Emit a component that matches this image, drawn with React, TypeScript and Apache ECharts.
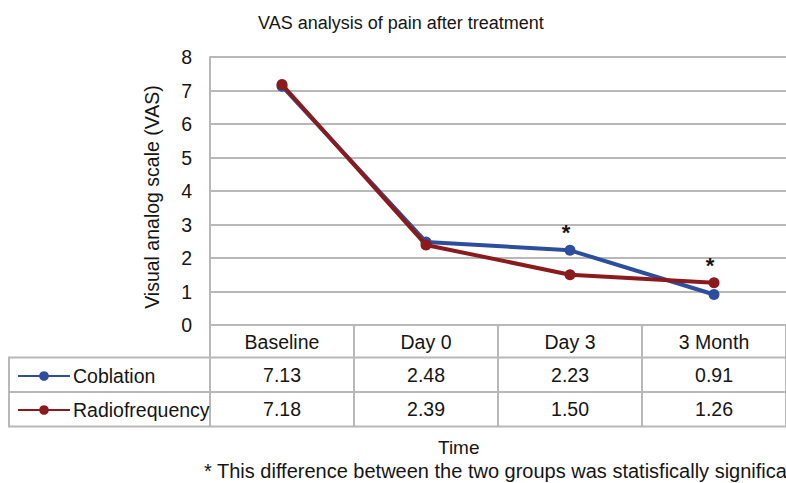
import React, { useEffect, useRef } from "react";
import * as echarts from "echarts";

const categories = ["Baseline", "Day 0", "Day 3", "3 Month"];
const coblation = [7.13, 2.48, 2.23, 0.91];
const radiofrequency = [7.18, 2.39, 1.5, 1.26];
const significant = [false, false, true, true];
const yTicks = [0, 1, 2, 3, 4, 5, 6, 7, 8];

const BLUE = "#2c4e9c";
const RED = "#8b1a1c";
const GRID = "#b8b8b8";
const TEXT = "#151515";
const FONT = "Liberation Sans, Arial, sans-serif";

export default function App() {
  const ref = useRef<HTMLDivElement>(null);
  useEffect(() => {
    if (!ref.current) return;
    const chart = echarts.init(ref.current, undefined, { renderer: "svg" });

    const mkData = (vals: number[], other: number[]) =>
      vals.map((v, i) => {
        const star = significant[i] && v >= other[i];
        return star
          ? {
              value: v,
              label: {
                show: true,
                formatter: "*",
                position: "top",
                distance: 1,
                offset: [-4, 0],
                fontSize: 22,
                fontWeight: "bold",
                color: TEXT,
                fontFamily: FONT,
              },
            }
          : v;
      });

    chart.setOption({
      animation: false,
      textStyle: { fontFamily: FONT },
      title: [
        {
          text: "VAS analysis of pain after treatment",
          left: 253,
          top: 9,
          textStyle: { fontSize: 18, fontWeight: "normal", color: TEXT, fontFamily: FONT },
        },
        {
          text: "Time",
          left: 433,
          top: 433,
          textStyle: { fontSize: 19, fontWeight: "normal", color: TEXT, fontFamily: FONT },
        },
        {
          text: "* This difference between the two groups was statisfically significant",
          left: 199,
          top: 456,
          textStyle: { fontSize: 20, fontWeight: "normal", color: TEXT, fontFamily: FONT },
        },
      ],
      legend: {
        orient: "vertical",
        left: 12,
        top: 361,
        itemWidth: 52,
        itemHeight: 12,
        itemGap: 14,
        textStyle: { fontSize: 19.5, color: TEXT, fontFamily: FONT, padding: [0, 0, 0, -2] },
        data: ["Coblation", "Radiofrequency"],
      },
      grid: { left: 210, top: 57, width: 586, height: 268, containLabel: false },
      xAxis: {
        type: "category",
        data: categories,
        boundaryGap: true,
        axisLine: { show: true, lineStyle: { color: GRID, width: 2 } },
        axisTick: { show: true, interval: 0, length: 101, lineStyle: { color: GRID, width: 2 } },
        axisLabel: {
          interval: 0,
          margin: 0,
          formatter: (v: string, i: number) =>
            `{h|${v}}\n{v|${coblation[i].toFixed(2)}}\n{v|${radiofrequency[i].toFixed(2)}}`,
          rich: {
            h: { fontSize: 19.5, lineHeight: 33.5, color: TEXT, fontFamily: FONT },
            v: { fontSize: 19.5, lineHeight: 33.5, color: TEXT, fontFamily: FONT },
          },
        },
      },
      yAxis: {
        type: "value",
        min: yTicks[0],
        max: yTicks[yTicks.length - 1],
        interval: 1,
        name: "Visual analog scale (VAS)",
        nameLocation: "middle",
        nameGap: 48,
        nameTextStyle: { fontSize: 19.5, color: TEXT, fontFamily: FONT, padding: [0, 12, 0, 0] },
        axisLine: { show: true, lineStyle: { color: GRID, width: 2 } },
        axisTick: { show: false },
        axisLabel: { fontSize: 19.5, color: TEXT, margin: 18, fontFamily: FONT },
        splitLine: { show: true, lineStyle: { color: GRID, width: 2 } },
      },
      graphic: [
        {
          type: "rect",
          shape: { x: 9, y: 357.5, width: 800, height: 69 },
          style: { fill: "none", stroke: GRID, lineWidth: 2 },
          silent: true,
        },
        {
          type: "line",
          shape: { x1: 9, y1: 392, x2: 800, y2: 392 },
          style: { stroke: GRID, lineWidth: 2 },
          silent: true,
        },
      ],
      series: [
        {
          name: "Coblation",
          type: "line",
          data: mkData(coblation, radiofrequency),
          symbol: "circle",
          symbolSize: 11,
          itemStyle: { color: BLUE },
          lineStyle: { color: BLUE, width: 4 },
          z: 2,
        },
        {
          name: "Radiofrequency",
          type: "line",
          data: mkData(radiofrequency, coblation),
          symbol: "circle",
          symbolSize: 11,
          itemStyle: { color: RED },
          lineStyle: { color: RED, width: 4 },
          z: 3,
        },
      ],
    });
    return () => chart.dispose();
  }, []);
  return (
    <div
      ref={ref}
      style={{ position: "fixed", left: 0, top: 0, width: 786, height: 483, background: "#fff" }}
    />
  );
}
